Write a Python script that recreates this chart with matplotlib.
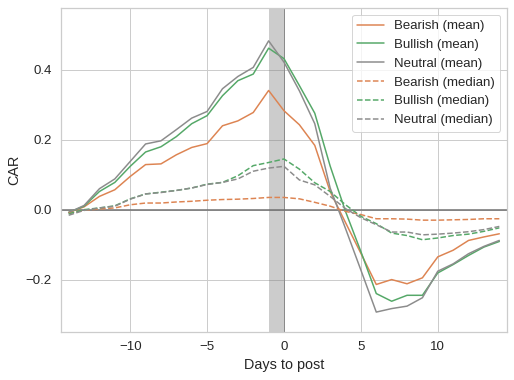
import matplotlib
matplotlib.use("Agg")
import matplotlib.pyplot as plt
import seaborn as sns
import numpy as np

days = list(range(-14, 15))

bearish_mean = [-0.008, 0.008, 0.038, 0.057, 0.095, 0.129, 0.131, 0.157, 0.178, 0.189,
                0.240, 0.254, 0.278, 0.341, 0.283, 0.243, 0.184, 0.052, -0.037, -0.125,
                -0.214, -0.200, -0.212, -0.195, -0.135, -0.116, -0.088, -0.078, -0.069]
bullish_mean = [-0.008, 0.010, 0.052, 0.078, 0.124, 0.165, 0.180, 0.209, 0.246, 0.269,
                0.326, 0.369, 0.388, 0.462, 0.432, 0.355, 0.276, 0.125, -0.005, -0.120,
                -0.240, -0.262, -0.245, -0.245, -0.181, -0.157, -0.131, -0.107, -0.091]
neutral_mean = [-0.008, 0.012, 0.060, 0.088, 0.138, 0.188, 0.197, 0.229, 0.262, 0.281,
                0.346, 0.381, 0.407, 0.483, 0.422, 0.340, 0.246, 0.062, -0.054, -0.173,
                -0.293, -0.283, -0.276, -0.252, -0.176, -0.155, -0.126, -0.105, -0.088]
bearish_median = [-0.010, -0.002, 0.002, 0.005, 0.014, 0.019, 0.019, 0.022, 0.024, 0.027,
                  0.029, 0.030, 0.032, 0.035, 0.035, 0.031, 0.021, 0.010, -0.005, -0.014,
                  -0.026, -0.026, -0.027, -0.030, -0.030, -0.029, -0.028, -0.026, -0.026]
bullish_median = [-0.012, 0.000, 0.005, 0.011, 0.031, 0.045, 0.050, 0.055, 0.062, 0.073,
                  0.078, 0.097, 0.126, 0.135, 0.145, 0.116, 0.077, 0.052, 0.014, -0.019,
                  -0.040, -0.067, -0.074, -0.086, -0.081, -0.074, -0.070, -0.062, -0.052]
neutral_median = [-0.016, -0.002, 0.005, 0.010, 0.030, 0.045, 0.049, 0.055, 0.062, 0.072,
                  0.078, 0.088, 0.110, 0.119, 0.124, 0.085, 0.071, 0.038, 0.003, -0.023,
                  -0.043, -0.064, -0.064, -0.072, -0.070, -0.067, -0.063, -0.057, -0.048]

sns.set_theme(style="whitegrid", context="notebook")
plt.rcParams['font.family'] = ['Liberation Sans', 'DejaVu Sans']

colors = {"Bearish": "#dd8452", "Bullish": "#55a868", "Neutral": "#8c8c8c"}

fig = plt.figure(figsize=(514 / 72, 380 / 72), dpi=72)
ax = fig.add_axes([61 / 514, 1 - 332 / 380, 446 / 514, 324 / 380])

ax.axvspan(-1, 0, color="grey", alpha=0.4, lw=0)
ax.axvline(0, color="#8a8a8a", lw=1.0)
ax.axhline(0, color="#6e6e6e", lw=1.5)

ax.plot(days, bearish_mean, color=colors["Bearish"], lw=1.5, label="Bearish (mean)")
ax.plot(days, bullish_mean, color=colors["Bullish"], lw=1.5, label="Bullish (mean)")
ax.plot(days, neutral_mean, color=colors["Neutral"], lw=1.5, label="Neutral (mean)")
ax.plot(days, bearish_median, color=colors["Bearish"], lw=1.5, ls="--", label="Bearish (median)")
ax.plot(days, bullish_median, color=colors["Bullish"], lw=1.5, ls="--", label="Bullish (median)")
ax.plot(days, neutral_median, color=colors["Neutral"], lw=1.5, ls="--", label="Neutral (median)")

ax.set_xlim(-14.5, 14.5)
ax.set_ylim(-0.35, 0.577)
ax.set_xticks([-10, -5, 0, 5, 10])
ax.set_yticks([-0.2, 0.0, 0.2, 0.4])
ax.tick_params(labelsize=13.2)
ax.set_xlabel("Days to post", fontsize=14.4)
ax.set_ylabel("CAR", fontsize=14.4)
ax.legend(loc="upper right", fontsize=13.2)

fig.savefig("out.png", dpi=72)
